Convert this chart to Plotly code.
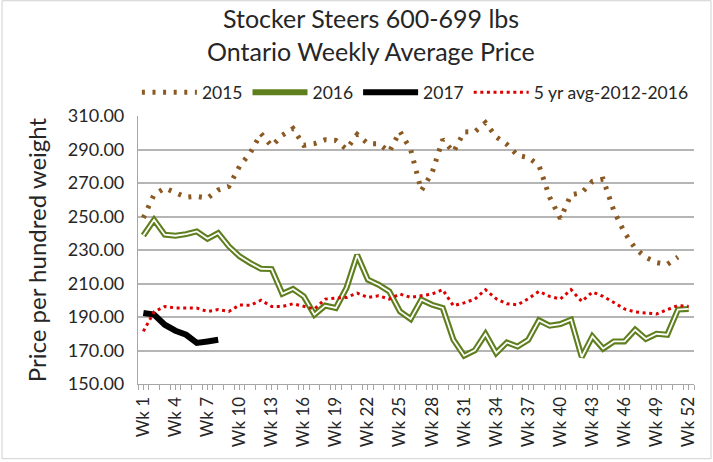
import plotly.graph_objects as go

# week numbers 1..52 and the labels shown every third week
weeks = list(range(1, 53))
tick_weeks = [1, 4, 7, 10, 13, 16, 19, 22, 25, 28, 31, 34, 37, 40, 43, 46, 49, 52]
tick_text = ["Wk %d" % w for w in tick_weeks]

# prices ($ per hundred weight)
price_2015 = [249.2, 263.0, 267.0, 264.5, 261.5, 262.0, 261.0, 265.8, 268.0, 280.0,
              288.0, 299.5, 292.0, 298.5, 302.5, 292.5, 293.5, 295.8, 295.4, 290.2,
              299.0, 293.5, 293.5, 288.7, 300.8, 290.0, 265.5, 276.0, 296.0, 288.5,
              300.5, 300.6, 306.0, 297.5, 293.0, 286.5, 285.2, 280.5, 261.5, 248.8,
              263.0, 264.2, 271.0, 272.3, 253.5, 240.4, 231.0, 225.6, 222.5, 221.4,
              225.8]

price_2016 = [238.7, 248.0, 239.1, 238.5, 239.5, 241.1, 236.7, 240.1, 232.2, 226.2,
              222.2, 218.8, 218.6, 203.9, 206.7, 202.3, 191.4, 196.8, 195.4, 207.3,
              227.0, 212.3, 209.3, 205.3, 193.3, 188.8, 200.3, 197.3, 195.4, 176.4,
              166.9, 170.1, 179.8, 168.5, 174.8, 172.4, 176.4, 188.0, 184.8, 185.8,
              188.4, 166.1, 178.4, 171.1, 175.4, 175.4, 182.4, 176.9, 180.0, 179.4,
              194.4, 194.8]

price_2017 = [192.4, 191.4, 185.4, 181.8, 179.4, 174.5, 175.4, 176.4]

avg_5yr = [181.4, 193.0, 196.3, 195.4, 195.4, 195.3, 193.3, 194.4, 193.3, 197.2,
           197.0, 200.0, 196.3, 196.3, 197.9, 196.3, 194.8, 200.7, 201.3, 201.7,
           204.3, 201.7, 202.7, 200.7, 203.7, 201.7, 202.7, 203.7, 206.3, 196.7,
           198.4, 200.7, 206.3, 200.9, 197.9, 197.3, 200.9, 205.3, 202.3, 200.7,
           206.3, 199.3, 204.9, 202.3, 198.7, 194.8, 193.0, 192.4, 191.8, 194.4,
           196.9, 196.3]

FONT = "Lato"
TEXT = "#262626"
GREEN = "#5F7F1E"

fig = go.Figure()

fig.add_trace(go.Scatter(
    x=weeks[:len(price_2015)], y=price_2015, name="2015", mode="lines",
    line=dict(color="#8B5A23", width=5, dash="3px,7.6px")))

# 2016 is a double line: wide green with a thin white core
fig.add_trace(go.Scatter(
    x=weeks, y=price_2016, name="2016", mode="lines",
    line=dict(color=GREEN, width=6)))
fig.add_trace(go.Scatter(
    x=weeks, y=price_2016, name="2016", mode="lines", showlegend=False,
    line=dict(color="white", width=1.8)))

fig.add_trace(go.Scatter(
    x=weeks[:len(price_2017)], y=price_2017, name="2017", mode="lines",
    line=dict(color="black", width=6)))

fig.add_trace(go.Scatter(
    x=weeks, y=avg_5yr, name="5 yr avg-2012-2016", mode="lines",
    line=dict(color="#DD0000", width=3, dash="3px,3.6px")))

fig.update_layout(
    width=713, height=462,
    margin=dict(l=138, r=19, t=116, b=78, autoexpand=False),
    paper_bgcolor="white", plot_bgcolor="white",
    font=dict(family=FONT, color=TEXT),
    # x just below 0 lets the one-row legend use the width of the left margin too
    legend=dict(orientation="h", x=-0.002, y=1.155, xanchor="left", yanchor="top",
                font=dict(size=17.5), itemwidth=55, tracegroupgap=0,
                bgcolor="rgba(0,0,0,0)"),
    showlegend=True,
)

# two-line title
fig.add_annotation(text="Stocker Steers 600-699 lbs", xref="paper", yref="paper",
                   x=0.419, y=1.367, xanchor="center", yanchor="middle",
                   showarrow=False, font=dict(size=25, color=TEXT))
fig.add_annotation(text="Ontario Weekly Average Price", xref="paper", yref="paper",
                   x=0.419, y=1.244, xanchor="center", yanchor="middle",
                   showarrow=False, font=dict(size=25, color=TEXT))

fig.update_xaxes(
    range=[0.5, 52.5], tickmode="array", tickvals=tick_weeks, ticktext=tick_text,
    tickangle=-90, tickfont=dict(size=17), ticks="outside", ticklen=5,
    tickcolor="#a6a6a6", showgrid=False, zeroline=False, automargin=False,
    showline=True, linecolor="#a6a6a6", linewidth=1.2,
    minor=dict(ticks="outside", tickmode="linear", tick0=0.5, dtick=1,
               ticklen=5, tickcolor="#a6a6a6"),
)

fig.update_yaxes(
    range=[150, 310], tick0=150, dtick=20, tickformat=".2f", tickfont=dict(size=18),
    ticks="outside", ticklen=9, tickcolor="rgba(0,0,0,0)", automargin=False,
    showgrid=True, gridcolor="#b5b5b5", gridwidth=1.5, zeroline=False,
    showline=True, linecolor="#a6a6a6", linewidth=1.2,
    title=dict(text="Price per hundred weight", font=dict(size=24), standoff=14),
)

# light frame round the whole chart area
fig.add_shape(type="rect", xref="paper", yref="paper",
              x0=-0.2446, x1=1.0306, y0=-0.2787, y1=1.430,
              line=dict(color="#d0d0d0", width=1), layer="below")

# drop the browser's default 8px body margin so the figure fills the window
fig.write_html("out.html", config={"displayModeBar": False},
               post_script="document.body.style.margin = '0';")
